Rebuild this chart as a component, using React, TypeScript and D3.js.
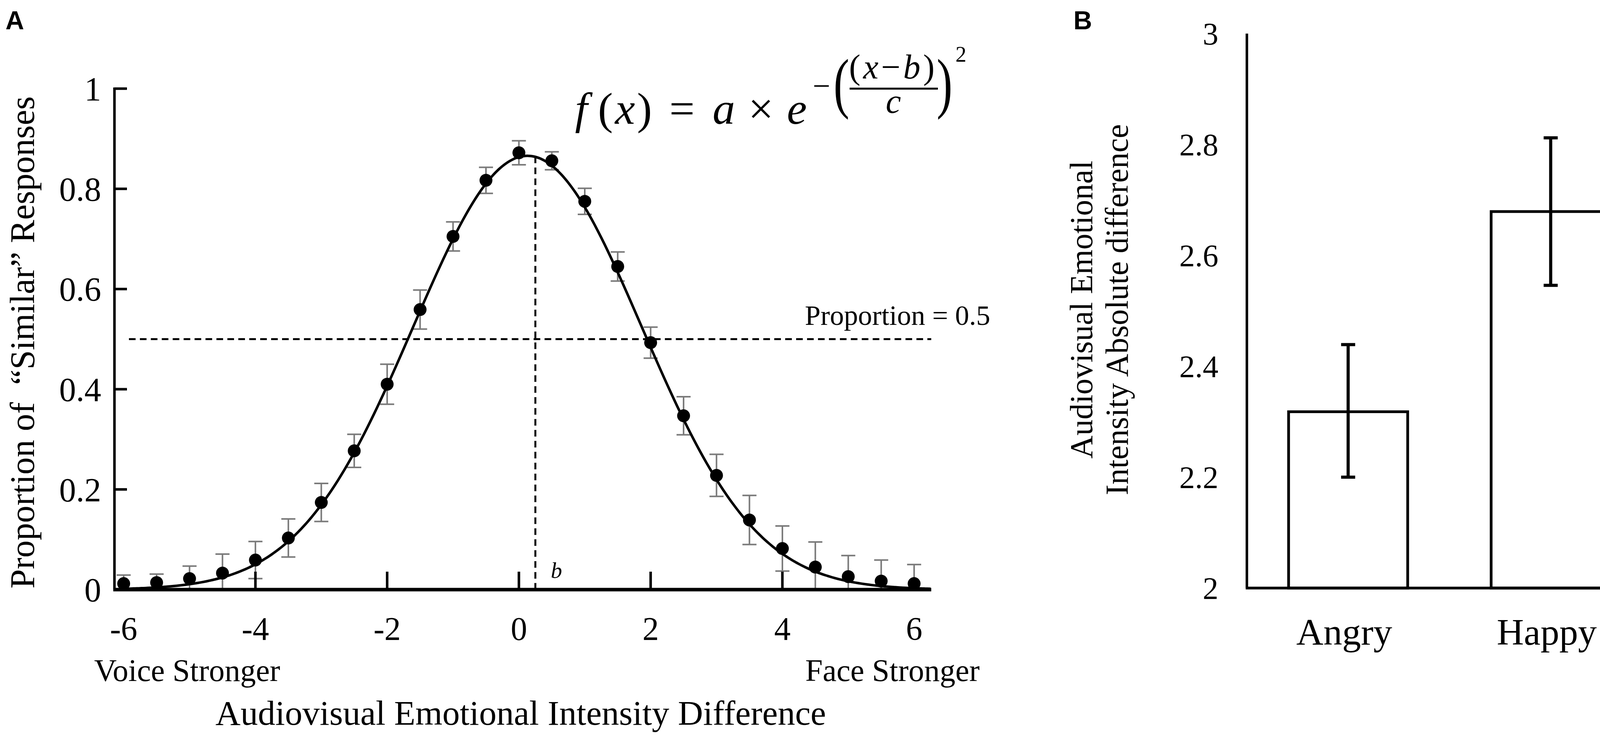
import * as d3 from "d3";

/**
 * Two-panel figure: (A) proportion of "similar" responses vs audiovisual
 * intensity difference with a Gaussian fit, (B) absolute difference by emotion.
 */
const W = 4249;
const H = 1890;
const SERIF = '"Liberation Serif", "Times New Roman", serif';
const SANS = '"Liberation Sans", Arial, sans-serif';

// ── Panel A data ──────────────────────────────────────────────────────────
const intensityDiffs = [
  -6, -5.5, -5, -4.5, -4, -3.5, -3, -2.5, -2, -1.5, -1, -0.5, 0, 0.5, 1, 1.5, 2,
  2.5, 3, 3.5, 4, 4.5, 5, 5.5, 6,
];
const propSimilar = [
  0.012, 0.014, 0.022, 0.033, 0.059, 0.103, 0.174, 0.277, 0.41, 0.559, 0.705,
  0.817, 0.872, 0.856, 0.775, 0.645, 0.493, 0.347, 0.228, 0.139, 0.082, 0.045,
  0.026, 0.017, 0.012,
];
const propSE = [
  0.017, 0.017, 0.025, 0.038, 0.037, 0.038, 0.038, 0.033, 0.04, 0.039, 0.029,
  0.026, 0.024, 0.018, 0.026, 0.029, 0.031, 0.038, 0.042, 0.049, 0.045, 0.05,
  0.042, 0.042, 0.038,
];
const xTicksA = [-6, -4, -2, 0, 2, 4, 6];
const xTickMarksA = [-4, -2, 0, 2, 4];
const yTicksA = [0, 0.2, 0.4, 0.6, 0.8, 1];

// Gaussian fit f(x) = a * exp(-((x - b) / c)^2)
const FIT_A = 0.866;
const FIT_B = 0.13;
const FIT_C = 2.45;
const B_LINE = 0.25; // position of the dashed "b" marker
const HALF = 0.5;

// ── Panel B data ──────────────────────────────────────────────────────────
const emotions = ["Angry", "Happy"];
const absDiff = [2.318, 2.679];
const absDiffLow = [2.2, 2.546];
const absDiffHigh = [2.439, 2.812];
const yTicksB = [2, 2.2, 2.4, 2.6, 2.8, 3];

const fit = (x: number) => FIT_A * Math.exp(-Math.pow((x - FIT_B) / FIT_C, 2));

export default function App() {
  // ── Scales A ──
  const xA = d3.scaleLinear().domain([-6.14, 6.26]).range([293, 2384]);
  const yA = d3.scaleLinear().domain([0, 1]).range([1510, 227]);

  const curveXs = d3.range(-6.0, 6.26, 0.05);
  const curvePath =
    d3
      .line<number>()
      .x((d) => xA(d))
      .y((d) => yA(fit(d)))
      .curve(d3.curveBasis)(curveXs) ?? "";

  // ── Scales B ──
  const xB = d3
    .scaleBand<string>()
    .domain(emotions)
    .range([3192, 4229])
    .paddingInner(0.412)
    .paddingOuter(0.206);
  const yB = d3.scaleLinear().domain([2, 3]).range([1506, 86]);

  const dash = "17 11";
  const gray = "#7a7a7a";

  return (
    <svg
      width={W}
      height={H}
      style={{ position: "absolute", left: 0, top: 0, background: "#fff" }}
    >
      <rect width={W} height={H} fill="#fff" />

      {/* Panel letters */}
      <text x={14} y={75} fontFamily={SANS} fontWeight="bold" fontSize={66}>
        A
      </text>
      <text x={2748} y={75} fontFamily={SANS} fontWeight="bold" fontSize={66}>
        B
      </text>

      {/* ── Panel A ── */}
      <g>
        {/* reference lines */}
        <line
          x1={xA(-5.92)}
          x2={xA.range()[1]}
          y1={yA(HALF)}
          y2={yA(HALF)}
          stroke="#000"
          strokeWidth={5}
          strokeDasharray={dash}
        />
        <line
          x1={xA(B_LINE)}
          x2={xA(B_LINE)}
          y1={yA(0)}
          y2={yA(fit(B_LINE))}
          stroke="#000"
          strokeWidth={5}
          strokeDasharray={dash}
        />

        {/* error bars */}
        {intensityDiffs.map((x, i) => {
          const lo = Math.max(0, propSimilar[i] - propSE[i]);
          const hi = propSimilar[i] + propSE[i];
          const cx = xA(x);
          return (
            <g key={`e${i}`} stroke={gray} strokeWidth={4}>
              <line x1={cx} x2={cx} y1={yA(lo)} y2={yA(hi)} />
              <line x1={cx - 18} x2={cx + 18} y1={yA(hi)} y2={yA(hi)} />
              <line x1={cx - 18} x2={cx + 18} y1={yA(lo)} y2={yA(lo)} />
            </g>
          );
        })}

        {/* fitted curve */}
        <path d={curvePath} fill="none" stroke="#000" strokeWidth={6.5} />

        {/* points */}
        {intensityDiffs.map((x, i) => (
          <circle key={`p${i}`} cx={xA(x)} cy={yA(propSimilar[i])} r={16.5} fill="#000" />
        ))}

        {/* axes */}
        <line
          x1={xA.range()[0]}
          x2={xA.range()[0]}
          y1={yA(1) - 3}
          y2={yA(0)}
          stroke="#000"
          strokeWidth={6.5}
        />
        <line
          x1={xA.range()[0] - 3}
          x2={xA.range()[1]}
          y1={yA(0)}
          y2={yA(0)}
          stroke="#000"
          strokeWidth={9}
        />
        {yTicksA.map((t) => (
          <g key={`yt${t}`}>
            <line
              x1={xA.range()[0]}
              x2={xA.range()[0] + 32}
              y1={yA(t)}
              y2={yA(t)}
              stroke="#000"
              strokeWidth={6.5}
            />
            <text
              x={259}
              y={yA(t)}
              dy="0.35em"
              textAnchor="end"
              fontFamily={SERIF}
              fontSize={86}
            >
              {String(t)}
            </text>
          </g>
        ))}
        {xTickMarksA.map((t) => (
          <line
            key={`xm${t}`}
            x1={xA(t)}
            x2={xA(t)}
            y1={yA(0)}
            y2={yA(0) - 46}
            stroke="#000"
            strokeWidth={6.5}
          />
        ))}
        {xTicksA.map((t) => (
          <text
            key={`xt${t}`}
            x={xA(t)}
            y={1639}
            textAnchor="middle"
            fontFamily={SERIF}
            fontSize={84}
          >
            {String(t)}
          </text>
        ))}

        {/* labels */}
        <text x={1410} y={1480} fontFamily={SERIF} fontStyle="italic" fontSize={58}>
          b
        </text>
        <text x={2535} y={832} textAnchor="end" fontFamily={SERIF} fontSize={72}>
          Proportion = 0.5
        </text>
        <text x={241} y={1744} fontFamily={SERIF} fontSize={80}>
          Voice Stronger
        </text>
        <text x={2508} y={1744} textAnchor="end" fontFamily={SERIF} fontSize={80}>
          Face Stronger
        </text>
        <text x={1333} y={1856} textAnchor="middle" fontFamily={SERIF} fontSize={89}>
          Audiovisual Emotional Intensity Difference
        </text>
        <text
          transform="translate(87,877) rotate(-90)"
          textAnchor="middle"
          fontFamily={SERIF}
          fontSize={89}
          xmlSpace="preserve"
        >
          {"Proportion of  \u201cSimilar\u201d Responses"}
        </text>

        {/* formula: f(x) = a × e^-((x-b)/c)^2 */}
        <g fontFamily={SERIF} fill="#000" textAnchor="middle">
          <text y={317} fontSize={115}>
            <tspan x={1488} fontStyle="italic">f</tspan>
            <tspan x={1550}>(</tspan>
            <tspan x={1600} fontStyle="italic">x</tspan>
            <tspan x={1650}>)</tspan>
            <tspan x={1746}>=</tspan>
            <tspan x={1853} fontStyle="italic">a</tspan>
            <tspan x={1948}>×</tspan>
            <tspan x={2040} fontStyle="italic">e</tspan>
          </text>
          <text x={2103} y={247} fontSize={80}>−</text>
          <text transform="translate(2154,270) scale(1,1.4)" fontSize={122}>(</text>
          <text x={2283} y={201} fontSize={88} textLength={219} lengthAdjust="spacing">
            <tspan>(</tspan>
            <tspan fontStyle="italic">x</tspan>
            <tspan>−</tspan>
            <tspan fontStyle="italic">b</tspan>
            <tspan>)</tspan>
          </text>
          <line x1={2175} x2={2401} y1={227} y2={227} stroke="#000" strokeWidth={5} />
          <text x={2287} y={289} fontStyle="italic" fontSize={88}>
            c
          </text>
          <text transform="translate(2418,270) scale(1,1.4)" fontSize={122}>)</text>
          <text x={2460} y={158} fontSize={56}>2</text>
        </g>
      </g>

      {/* ── Panel B ── */}
      <g>
        {emotions.map((e, i) => {
          const x0 = xB(e) ?? 0;
          const bw = xB.bandwidth();
          const cx = x0 + bw / 2;
          return (
            <g key={e}>
              <rect
                x={x0}
                y={yB(absDiff[i])}
                width={bw}
                height={yB(2) - yB(absDiff[i])}
                fill="#fff"
                stroke="#000"
                strokeWidth={7}
              />
              <g stroke="#000" strokeWidth={8}>
                <line x1={cx} x2={cx} y1={yB(absDiffLow[i])} y2={yB(absDiffHigh[i])} />
                <line x1={cx - 18} x2={cx + 18} y1={yB(absDiffHigh[i])} y2={yB(absDiffHigh[i])} />
                <line x1={cx - 18} x2={cx + 18} y1={yB(absDiffLow[i])} y2={yB(absDiffLow[i])} />
              </g>
              <text
                x={cx - 10}
                y={1651}
                textAnchor="middle"
                fontFamily={SERIF}
                fontSize={96}
              >
                {e}
              </text>
            </g>
          );
        })}

        <line x1={3192} x2={3192} y1={yB(3)} y2={yB(2)} stroke="#000" strokeWidth={6.5} />
        <line x1={3189} x2={xB.range()[1]} y1={yB(2)} y2={yB(2)} stroke="#000" strokeWidth={7} />
        {yTicksB.map((t) => (
          <text
            key={`yb${t}`}
            x={3119}
            y={yB(t)}
            dy="0.35em"
            textAnchor="end"
            fontFamily={SERIF}
            fontSize={80}
          >
            {String(t)}
          </text>
        ))}
        <text
          transform="translate(2796,793) rotate(-90)"
          textAnchor="middle"
          fontFamily={SERIF}
          fontSize={82}
        >
          Audiovisual Emotional
        </text>
        <text
          transform="translate(2887,793) rotate(-90)"
          textAnchor="middle"
          fontFamily={SERIF}
          fontSize={82}
        >
          Intensity Absolute difference
        </text>
      </g>
    </svg>
  );
}
